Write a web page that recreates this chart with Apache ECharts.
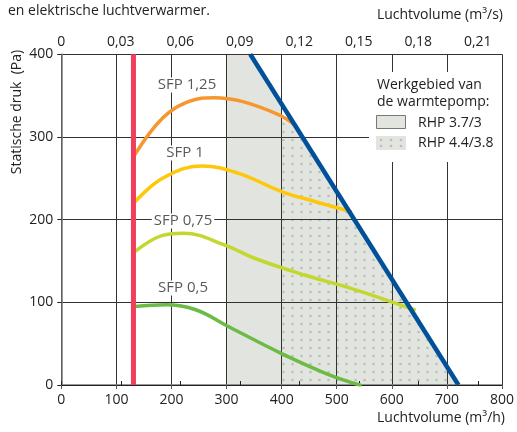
<!DOCTYPE html>
<html><head><meta charset="utf-8">
<script src="https://cdn.jsdelivr.net/npm/echarts@6/dist/echarts.min.js"></script>
<style>html,body{margin:0;padding:0;background:#fff}#c{width:517px;height:432px}</style>
</head><body><div id="c"></div>
<script>
// Data (x: Luchtvolume m3/h, y: Statische druk Pa)
const sfp125 = [[133,278],[184,323],[232,343],[277,347.5],[328,343],[394,327],[425,314]];
const sfp100 = [[133,221],[184,250],[256,265],[322,256],[400,234],[460,222],[525,210]];
const sfp075 = [[133,161],[184,181],[222,183.5],[298,169],[352,153],[442,133],[530,116],[641,91]];
const sfp050 = [[133,95],[190,97],[244,91],[304,70.5],[400,38],[484,13],[542,0]];
const maxLine = [[343,400],[721,0]];
const minFlow = [[131,0],[131,400]];
const rhp37Area = [[300,400],[343,400],[400,340]];
const rhp44Area = [[400,321],[425,313],[721,0]];
const sfpLabels = ['SFP 1,25','SFP 1','SFP 0,75','SFP 0,5'];
const legendTitle = ['Werkgebied van','de warmtepomp:'];
const legendItems = ['RHP 3.7/3','RHP 4.4/3.8'];
const topNote = 'en elektrische luchtverwarmer.';
const xTitleBottom = 'Luchtvolume (m³/h)';
const xTitleTop = 'Luchtvolume (m³/s)';
const yTitle = 'Statische druk  (Pa)';

const FONT = 'Open Sans';
const chart = echarts.init(document.getElementById('c'), null, {renderer:'canvas'});

function dotPattern(){
  const c = document.createElement('canvas'); c.width = 9; c.height = 8;
  const g = c.getContext('2d');
  g.fillStyle = '#e2e5df'; g.fillRect(0,0,9,8);
  g.fillStyle = '#b5c3b1'; g.beginPath(); g.arc(4.5,4,1.3,0,Math.PI*2); g.fill();
  return c;
}
const pat = {image: dotPattern(), repeat: 'repeat'};

function curve(data, color){
  return {type:'line', data, smooth:0.4, symbol:'none', silent:true, z:3,
    lineStyle:{color, width:3.5, cap:'round'}};
}

const sfpLabelPos = [[187,85],[185,153],[183,221],[183,288]];
const graphics = [];
graphics.push({type:'text', left:8, top:4, z:100, style:{text:topNote, font:'14px '+FONT, fill:'#222'}});
graphics.push({type:'text', right:14, top:8, z:100, style:{text:xTitleTop, font:'14px '+FONT, fill:'#222'}});
graphics.push({type:'text', right:12, top:411, z:100, style:{text:xTitleBottom, font:'14px '+FONT, fill:'#222'}});
graphics.push({type:'text', x:17, y:112, rotation:Math.PI/2, z:100, style:{text:yTitle, font:'14px '+FONT, fill:'#222', align:'center', verticalAlign:'middle'}});
sfpLabels.forEach((t,i)=>{
  graphics.push({type:'text', x:sfpLabelPos[i][0], y:sfpLabelPos[i][1], z:100,
    style:{text:t, font:'15px '+FONT, fill:'#58595b', align:'center', verticalAlign:'middle', backgroundColor:'#fff', padding:[0,2]}});
});
// legend
graphics.push({type:'rect', shape:{x:369,y:72,width:133,height:90}, z:90, style:{fill:'#fff'}});
graphics.push({type:'text', x:377, y:85, z:100, style:{text:legendTitle[0], font:'14px '+FONT, fill:'#222', verticalAlign:'middle'}});
graphics.push({type:'text', x:377, y:102, z:100, style:{text:legendTitle[1], font:'14px '+FONT, fill:'#222', verticalAlign:'middle'}});
graphics.push({type:'rect', shape:{x:376.5,y:115.5,width:29,height:13}, z:100, style:{fill:'#e2e5df', stroke:'#777', lineWidth:1}});
graphics.push({type:'rect', shape:{x:376,y:136,width:30,height:14}, z:100, style:{fill:'#e2e5df'}});
[381,391,401].forEach(cx=>[140,146].forEach(cy=>{
  graphics.push({type:'circle', shape:{cx,cy,r:1.3}, z:101, style:{fill:'#b5c3b1'}});
}));
graphics.push({type:'text', x:418, y:123, z:100, style:{text:legendItems[0], font:'14px '+FONT, fill:'#222', verticalAlign:'middle'}});
graphics.push({type:'text', x:418, y:143.5, z:100, style:{text:legendItems[1], font:'14px '+FONT, fill:'#222', verticalAlign:'middle'}});

const option = {
  animation:false,
  textStyle:{fontFamily:FONT},
  grid:{left:61.3, right:11.7, top:54.3, bottom:47, containLabel:false},
  xAxis:[
    {type:'value', position:'bottom', min:0, max:800, interval:100, z:2,
     axisLine:{show:true, lineStyle:{color:'#777', width:1.5}},
     axisTick:{show:true, length:4, lineStyle:{color:'#555'}},
     axisLabel:{color:'#222', fontSize:14, margin:8, fontFamily:FONT},
     splitLine:{show:true, lineStyle:{color:'#333', width:1}}},
    {type:'value', position:'top', min:0, max:800, interval:108, z:2,
     axisLine:{show:true, lineStyle:{color:'#222', width:1}},
     axisTick:{show:true, length:4, lineStyle:{color:'#222'}},
     axisLabel:{color:'#222', fontSize:14, margin:5, fontFamily:FONT, showMaxLabel:false,
       formatter:v=> v===0 ? '0' : (v/3600).toFixed(2).replace('.',',')},
     splitLine:{show:false}}
  ],
  yAxis:[
    {type:'value', min:0, max:400, interval:100, z:2,
     axisLine:{show:true, lineStyle:{color:'#222', width:1}},
     axisTick:{show:true, length:4, lineStyle:{color:'#222'}},
     axisLabel:{color:'#222', fontSize:14, margin:8, fontFamily:FONT},
     splitLine:{show:true, lineStyle:{color:'#333', width:1}}},
    {type:'value', min:0, max:400, interval:100, position:'right', z:2,
     axisLine:{show:true, lineStyle:{color:'#777', width:1.5}},
     axisTick:{show:false}, axisLabel:{show:false}, splitLine:{show:false}}
  ],
  series:[
    {type:'line', data:rhp37Area, symbol:'none', silent:true, z:1, lineStyle:{width:0}, areaStyle:{color:'#e2e5df', opacity:1}},
    {type:'line', data:rhp44Area, symbol:'none', silent:true, z:1, lineStyle:{width:0}, areaStyle:{color:pat, opacity:1}},
    curve(sfp125, '#f7962f'),
    curve(sfp100, '#ffc709'),
    curve(sfp075, '#c3d72f'),
    curve(sfp050, '#6cbb45'),
    {type:'line', data:maxLine, symbol:'none', silent:true, z:4, lineStyle:{color:'#00509a', width:4.5}},
    {type:'line', data:minFlow, symbol:'none', silent:true, z:5, lineStyle:{color:'#ef3f5b', width:5}}
  ],
  graphic: graphics
};
chart.setOption(option);
</script></body></html>
